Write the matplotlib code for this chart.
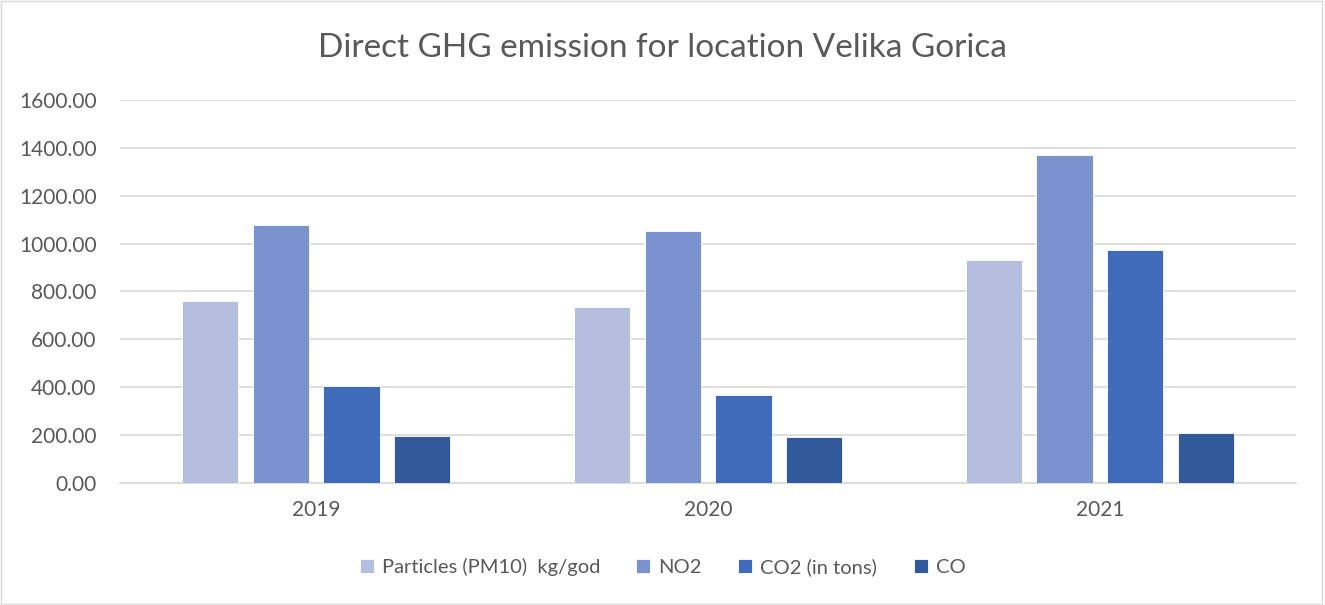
import matplotlib.pyplot as plt
import numpy as np
from matplotlib.patches import Rectangle

years = ['2019', '2020', '2021']
series_names = ['Particles (PM10)  kg/god', 'NO2', 'CO2 (in tons)', 'CO']
pm10 = [762, 737, 930]
no2 = [1077, 1052, 1370]
co2 = [407, 366, 972]
co = [198, 194, 207]
colors = ['#B4BFDF', '#7A93CF', '#3F6CB8', '#325A9A']

plt.rcParams['font.family'] = ['Lato', 'DejaVu Sans']

fig = plt.figure(figsize=(13.25, 6.05), dpi=100)
ax = fig.add_axes([0.0906, 0.2017, 0.8875, 0.633])

x = np.arange(len(years))
step = 0.181
width = 0.143
for i, (vals, name) in enumerate(zip([pm10, no2, co2, co], series_names)):
    ax.bar(x + (i - 1.5) * step, vals, width, color=colors[i], label=name,
           edgecolor='white', linewidth=0.6, zorder=3)

ax.set_xlim(-0.5, 2.5)
ax.set_ylim(0, 1600)
ax.set_yticks(range(0, 1601, 200))
ax.set_yticklabels([f'{v:.2f}' for v in range(0, 1601, 200)])
ax.set_xticks(x)
ax.set_xticklabels(years)
ax.grid(axis='y', color='#D9D9D9', linewidth=1.2, zorder=0)
for s in ['top', 'right', 'left']:
    ax.spines[s].set_visible(False)
ax.spines['bottom'].set_color('#D9D9D9')
ax.spines['bottom'].set_linewidth(1.2)
ax.tick_params(length=0, labelsize=15, colors='#595959', pad=12)
ax.tick_params(axis='y', pad=17)

fig.suptitle('Direct GHG emission for location Velika Gorica', y=0.945,
             fontsize=24, color='#595959')

fig.legend(loc='center', bbox_to_anchor=(0.5, 0.063), ncol=4, frameon=False,
           fontsize=14.5, labelcolor='#595959', handlelength=0.7, handleheight=0.7,
           columnspacing=1.8, handletextpad=0.4)

fig.add_artist(Rectangle((0.001, 0.001), 0.997, 0.997, transform=fig.transFigure,
                         fill=False, edgecolor='#D9D9D9', linewidth=1))

fig.savefig('out.png', dpi=100)
